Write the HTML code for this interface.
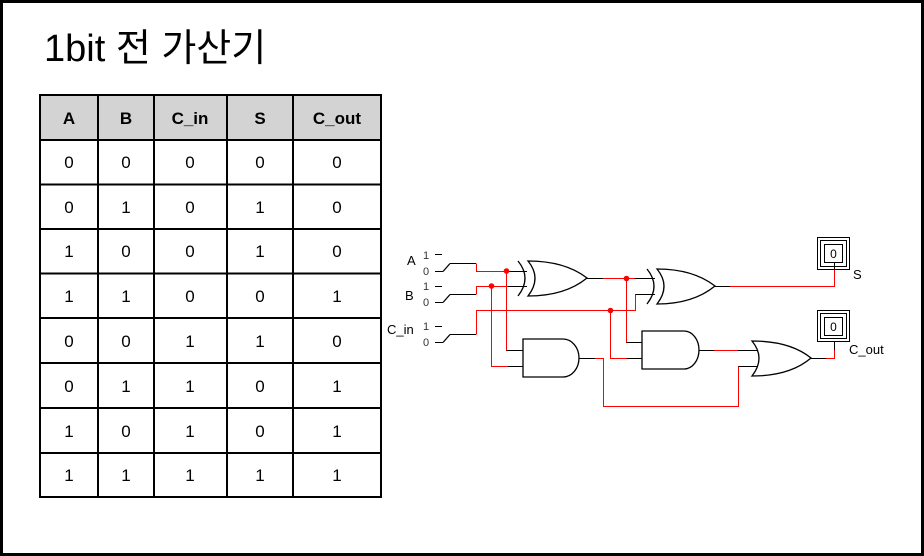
<!DOCTYPE html>
<html><head><meta charset="utf-8"><style>
html,body{margin:0;padding:0;background:#fff}
svg{display:block}
text{font-family:"Liberation Sans","Noto Sans CJK KR",sans-serif}
</style></head><body>
<svg width="924" height="556" viewBox="0 0 924 556" xmlns="http://www.w3.org/2000/svg">
<rect x="1.5" y="1.5" width="921" height="553" fill="#fff" stroke="#000" stroke-width="3"/>
<text x="44" y="61" font-size="38" fill="#000" font-family="'Liberation Sans','Noto Sans CJK KR',sans-serif">1bit 전 가산기</text>
<!-- table -->
<rect x="40" y="95" width="341" height="45" fill="#d3d3d3"/>
<g stroke="#000" stroke-width="2" fill="none">
<rect x="40" y="95" width="341" height="402"/>
<line x1="98" y1="95" x2="98" y2="497"/><line x1="154" y1="95" x2="154" y2="497"/>
<line x1="227" y1="95" x2="227" y2="497"/><line x1="293" y1="95" x2="293" y2="497"/>
<line x1="40" y1="140" x2="381" y2="140"/><line x1="40" y1="184.5" x2="381" y2="184.5"/>
<line x1="40" y1="229" x2="381" y2="229"/><line x1="40" y1="273.5" x2="381" y2="273.5"/>
<line x1="40" y1="318" x2="381" y2="318"/><line x1="40" y1="363" x2="381" y2="363"/>
<line x1="40" y1="408" x2="381" y2="408"/><line x1="40" y1="453" x2="381" y2="453"/>
</g>
<g font-size="17" font-weight="bold" text-anchor="middle">
<text x="69" y="124">A</text><text x="126" y="124">B</text><text x="190" y="124">C_in</text><text x="260" y="124">S</text><text x="337" y="124">C_out</text>
</g>
<g font-size="17" text-anchor="middle">
<text x="69" y="168">0</text><text x="126" y="168">0</text><text x="190" y="168">0</text><text x="260" y="168">0</text><text x="337" y="168">0</text>
<text x="69" y="213">0</text><text x="126" y="213">1</text><text x="190" y="213">0</text><text x="260" y="213">1</text><text x="337" y="213">0</text>
<text x="69" y="257">1</text><text x="126" y="257">0</text><text x="190" y="257">0</text><text x="260" y="257">1</text><text x="337" y="257">0</text>
<text x="69" y="302">1</text><text x="126" y="302">1</text><text x="190" y="302">0</text><text x="260" y="302">0</text><text x="337" y="302">1</text>
<text x="69" y="347">0</text><text x="126" y="347">0</text><text x="190" y="347">1</text><text x="260" y="347">1</text><text x="337" y="347">0</text>
<text x="69" y="392">0</text><text x="126" y="392">1</text><text x="190" y="392">1</text><text x="260" y="392">0</text><text x="337" y="392">1</text>
<text x="69" y="437">1</text><text x="126" y="437">0</text><text x="190" y="437">1</text><text x="260" y="437">0</text><text x="337" y="437">1</text>
<text x="69" y="481">1</text><text x="126" y="481">1</text><text x="190" y="481">1</text><text x="260" y="481">1</text><text x="337" y="481">1</text>
</g>
<!-- circuit labels -->
<g font-size="13" fill="#000">
<text x="407" y="265">A</text><text x="405" y="300">B</text><text x="387" y="334">C_in</text>
<text x="853" y="279">S</text><text x="849" y="354">C_out</text>
</g>
<g font-size="11" fill="#333">
<text x="423" y="259">1</text><text x="423" y="275">0</text>
<text x="423" y="290">1</text><text x="423" y="306">0</text>
<text x="423" y="330">1</text><text x="423" y="346">0</text>
</g>
<g stroke="#000" stroke-width="1" fill="none" shape-rendering="crispEdges">
<line x1="435" y1="254.5" x2="442" y2="254.5"/><line x1="435" y1="286.5" x2="442" y2="286.5"/><line x1="435" y1="326.5" x2="442" y2="326.5"/>
<line x1="435" y1="271.5" x2="443" y2="271.5"/><line x1="450" y1="263.5" x2="476" y2="263.5"/>
<line x1="435" y1="302.5" x2="443" y2="302.5"/><line x1="450" y1="294.5" x2="476" y2="294.5"/>
<line x1="435" y1="342.5" x2="443" y2="342.5"/><line x1="450" y1="334.5" x2="476" y2="334.5"/>
<line x1="508" y1="271.5" x2="527" y2="271.5"/><line x1="508" y1="286.5" x2="527" y2="286.5"/>
<line x1="506" y1="350.5" x2="523" y2="350.5"/><line x1="508" y1="366.5" x2="523" y2="366.5"/>
<line x1="587" y1="278.5" x2="603" y2="278.5"/>
<line x1="635" y1="278.5" x2="655" y2="278.5"/><line x1="635" y1="294.5" x2="655" y2="294.5"/>
<line x1="715" y1="286.5" x2="730" y2="286.5"/><line x1="834.5" y1="262" x2="834.5" y2="270"/>
<line x1="579" y1="358.5" x2="595" y2="358.5"/>
<line x1="626" y1="342.5" x2="642" y2="342.5"/><line x1="627" y1="358.5" x2="642" y2="358.5"/>
<line x1="699" y1="350.5" x2="714" y2="350.5"/><line x1="738" y1="350.5" x2="758" y2="350.5"/><line x1="738" y1="366.5" x2="758" y2="366.5"/>
<line x1="811" y1="358.5" x2="826" y2="358.5"/><line x1="834.5" y1="341" x2="834.5" y2="350"/>
<rect x="817.5" y="237.5" width="32" height="32"/><rect x="820.5" y="240.5" width="26" height="26"/><rect x="824.5" y="244.5" width="18" height="18"/>
<rect x="817.5" y="310.5" width="32" height="31"/><rect x="820.5" y="313.5" width="26" height="25"/><rect x="824.5" y="317.5" width="18" height="18"/>
</g>
<g stroke="#000" stroke-width="1.3" fill="none">
<line x1="443" y1="271.5" x2="450" y2="263.5"/><line x1="443" y1="302.5" x2="450" y2="294.5"/><line x1="443" y1="342.5" x2="450" y2="334.5"/>
<path d="M518,261 Q532,278 518,296"/>
<path d="M528,261 Q542,278 528,296 Q565,296 587,278 Q565,261 528,261 Z"/>
<path d="M647,269 Q661,286 647,304"/>
<path d="M657,269 Q671,286 657,304 Q693,304 715,286 Q693,269 657,269 Z"/>
<path d="M523,339 H563 A16,19 0 0 1 563,377 H523 Z"/>
<path d="M642,331 H684 A15,19 0 0 1 684,369 H642 Z"/>
<path d="M752,341 Q766,358 752,376 Q790,376 811,358 Q790,341 752,341 Z"/>
</g>
<g font-size="12" text-anchor="middle"><text x="833.5" y="258">0</text><text x="833.5" y="331">0</text></g>
<!-- red wires -->
<g stroke="#f00" stroke-width="1" fill="none" shape-rendering="crispEdges">
<polyline points="476.5,263.5 476.5,271.5 508,271.5"/>
<polyline points="476.5,294.5 476.5,286.5 508,286.5"/>
<polyline points="476.5,334.5 476.5,310.5 635.5,310.5 635.5,294.5"/>
<polyline points="506.5,271 506.5,350.5"/>
<polyline points="491.5,286 491.5,366.5 508,366.5"/>
<polyline points="603,278.5 635,278.5"/>
<polyline points="626.5,278 626.5,342.5"/>
<polyline points="610.5,310 610.5,358.5 627,358.5"/>
<polyline points="730,286.5 834.5,286.5 834.5,270"/>
<polyline points="595,358.5 603.5,358.5 603.5,406.5 738.5,406.5 738.5,366.5"/>
<polyline points="714,350.5 738,350.5"/>
<polyline points="826,358.5 834.5,358.5 834.5,350"/>
</g>
<g fill="#f00">
<circle cx="506.5" cy="271" r="2.8"/><circle cx="491.5" cy="286" r="2.8"/>
<circle cx="626.5" cy="278.5" r="2.8"/><circle cx="610.5" cy="310.5" r="2.8"/>
</g>
</svg>
</body></html>
